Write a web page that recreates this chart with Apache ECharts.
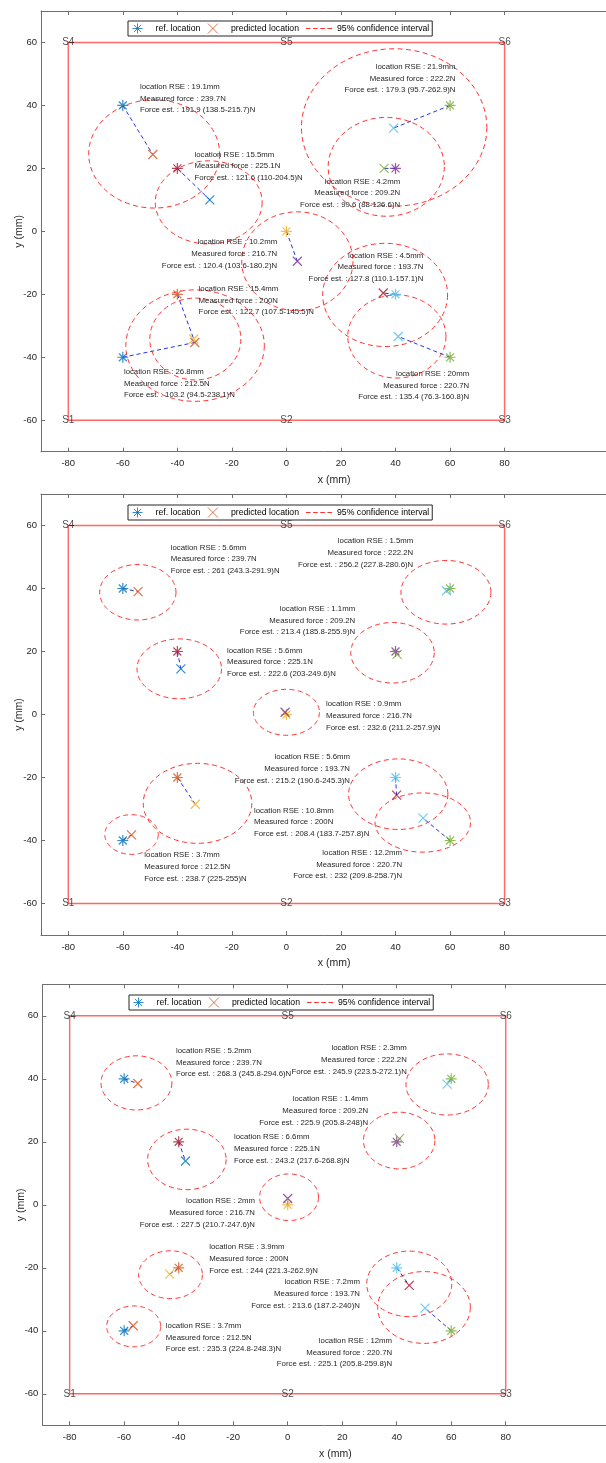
<!DOCTYPE html>
<html><head><meta charset="utf-8">
<script src="https://cdn.jsdelivr.net/npm/echarts@6/dist/echarts.min.js"></script>
<style>html,body{margin:0;padding:0;background:#fff}#c{width:606px;height:1463px}</style>
</head><body><div id="c"></div>
<script>
// ---------------- DATA ----------------
const xTicks = [-80, -60, -40, -20, 0, 20, 40, 60, 80];
const yTicks = [-60, -40, -20, 0, 20, 40, 60];
const sensorNames = ['S1', 'S2', 'S3', 'S4', 'S5', 'S6'];
const sensorX = [-80, 0, 80, -80, 0, 80];
const sensorY = [-60, -60, -60, 60, 60, 60];

// reference locations (mm) and measured force (N)
const refX = [-60, 0, 60, -40, -40, 40, 40, -60, 60];
const refY = [40, 0, 40, 20, -20, 20, -20, -40, -40];
const measuredForce = [239.7, 216.7, 222.2, 225.1, 200, 209.2, 193.7, 212.5, 220.7];

// panel 1
const predX1 = [-49, 4, 39.3, -28.1, -34, 35.8, 35.5, -33.6, 41];
const predY1 = [24.4, -9.5, 32.8, 10, -34.2, 20, -19.6, -35.3, -33.4];
const rse1 = [19.1, 10.2, 21.9, 15.5, 15.4, 4.2, 4.5, 26.8, 20];
const est1 = [191.9, 120.4, 179.3, 121.6, 122.7, 99.6, 127.8, 103.2, 135.4];
const estLo1 = [138.5, 103.6, 95.7, 110, 107.5, 88, 110.1, 94.5, 76.3];
const estHi1 = [215.7, 180.2, 262.9, 204.5, 145.5, 126.6, 157.1, 238.1, 160.8];
const ciCx1 = [-48.5, 4, 39.5, -28.5, -33.4, 36.6, 36.2, -33.5, 40.5];
const ciCy1 = [24.6, -9.5, 33, 9.2, -34.2, 20.5, -20.2, -36.3, -33.4];
const ciRx1 = [24, 20.4, 34, 19.6, 16.7, 21.3, 22.9, 25.4, 18];
const ciRy1 = [17.2, 15.7, 25, 13.2, 13, 15.7, 16.4, 17.7, 13.2];

// panel 2
const predX2 = [-54.4, -0.5, 58.7, -38.7, -33.4, 40.6, 40.4, -56.8, 50.1];
const predY2 = [39, 0.7, 39.3, 14.5, -28.5, 19.1, -25.6, -38.2, -32.9];
const rse2 = [5.6, 0.9, 1.5, 5.6, 10.8, 1.1, 5.6, 3.7, 12.2];
const est2 = [261, 232.6, 256.2, 222.6, 208.4, 213.4, 215.2, 238.7, 232];
const estLo2 = [243.3, 211.2, 227.8, 203, 183.7, 185.8, 190.6, 225, 209.8];
const estHi2 = [291.9, 257.9, 280.6, 249.6, 257.8, 255.9, 245.3, 255, 258.7];
const ciCx2 = [-54.5, 0, 58.5, -39.3, -32.6, 38.9, 41, -56.8, 50];
const ciCy2 = [38.8, 0.7, 38.8, 14.5, -28.2, 19.6, -25.3, -38.1, -34.3];
const ciRx2 = [14, 12.1, 16.5, 15.5, 19.9, 15.3, 18.2, 9.8, 17.5];
const ciRy2 = [8.8, 7.3, 10.1, 9.5, 12.7, 9.6, 11.2, 6.3, 9.4];

// panel 3
const predX3 = [-55, 0, 58.5, -37.5, -43.3, 41, 44.6, -56.7, 50.4];
const predY3 = [38.5, 2, 38.3, 13.9, -22, 21, -25.6, -38.4, -32.8];
const rse3 = [5.2, 2, 2.3, 6.6, 3.9, 1.4, 7.2, 3.7, 12];
const est3 = [268.3, 227.5, 245.9, 243.2, 244, 225.9, 213.6, 235.3, 225.1];
const estLo3 = [245.8, 210.7, 223.5, 217.6, 221.3, 205.8, 187.2, 224.8, 205.8];
const estHi3 = [294.6, 247.6, 272.1, 268.8, 262.9, 248, 240, 248.3, 259.8];
const ciCx3 = [-55.5, 0.5, 58.5, -37, -43, 40.9, 44.6, -56.5, 50];
const ciCy3 = [38.7, 2.4, 38.2, 14.4, -22.2, 20.4, -25.1, -38.6, -32.6];
const ciRx3 = [13, 10.8, 15.1, 14.4, 11.7, 13.1, 15.6, 9.9, 17];
const ciRy3 = [8.6, 7.4, 9.7, 9.6, 7.6, 9, 10.4, 6.5, 11.4];

// ---------------- ANNOTATION ANCHORS (data coords of middle text line) ----------------
const labX1 = [-53.7, -3.4, 62, -33.7, -32.2, 41.7, 50.2, -59.6, 67];
const labY1 = [42.2, -7.2, 48.6, 20.7, -22, 12.1, -11.4, -48.3, -49];
const labA1 = ['left', 'right', 'right', 'left', 'left', 'right', 'right', 'left', 'right'];
const labX2 = [-42.4, 14.5, 46.5, -21.8, -11.9, 25.2, 23.3, -52.1, 42.4];
const labY2 = [49.3, -0.4, 51.3, 16.6, -34.2, 29.8, -17.3, -48.4, -47.6];
const labA2 = ['left', 'left', 'right', 'left', 'left', 'right', 'right', 'left', 'right'];
const labX3 = [-41, -12, 43.7, -19.7, -28.8, 29.5, 26.5, -44.7, 38.3];
const labY3 = [45.2, -2.6, 46, 17.8, -17.2, 29.8, -28.3, -42.1, -46.9];
const labA3 = ['left', 'right', 'right', 'left', 'left', 'right', 'right', 'left', 'right'];

// ---------------- STYLE ----------------
const C = {blue:'#0072BD', orange:'#D95319', yellow:'#EDB120', purple:'#7E2F8E', green:'#77AC30', lblue:'#4DBEEE', dred:'#A2142F'};
const refColors = [C.blue, C.yellow, C.green, C.dred, C.orange, C.purple, C.lblue, C.blue, C.green];
const predColors = [C.orange, C.purple, C.lblue, C.blue, C.yellow, C.green, C.dred, C.orange, C.lblue];
const F = '"Liberation Sans", Arial, Helvetica, sans-serif';
const AX = '#6e6e6e';
const ASTER = 'path://M0,-1L0,1M-1,0L1,0M-0.72,-0.72L0.72,0.72M-0.72,0.72L0.72,-0.72';
const XMARK = 'path://M-1,-1L1,1M-1,1L1,-1';
const DASH = 'path://M0,0h4.5v1.2h-4.5zM7,0h4.5v1.2h-4.5zM14,0h4.5v1.2h-4.5zM21,0h4.5v1.2h-4.5z';

const panels = [
  {predX:predX1, predY:predY1, rse:rse1, est:est1, lo:estLo1, hi:estHi1, cx:ciCx1, cy:ciCy1, rx:ciRx1, ry:ciRy1, lx:labX1, ly:labY1, la:labA1},
  {predX:predX2, predY:predY2, rse:rse2, est:est2, lo:estLo2, hi:estHi2, cx:ciCx2, cy:ciCy2, rx:ciRx2, ry:ciRy2, lx:labX2, ly:labY2, la:labA2},
  {predX:predX3, predY:predY3, rse:rse3, est:est3, lo:estLo3, hi:estHi3, cx:ciCx3, cy:ciCy3, rx:ciRx3, ry:ciRy3, lx:labX3, ly:labY3, la:labA3}
];
const layout = [
  {left:41, top:11, height:440.7, width:586.3, legLeft:128, legTop:21},
  {left:41, top:494, height:441, width:586.3, legLeft:128, legTop:505},
  {left:42.4, top:984.3, height:441, width:586, legLeft:129, legTop:995}
];
const X_MIN = -90, X_MAX = 125, Y_MIN = -70, Y_MAX = 70;

const chart = echarts.init(document.getElementById('c'), null, {renderer:'canvas'});

const grid = [], xAxis = [], yAxis = [], series = [], legend = [];
const sxMin = Math.min(...sensorX), sxMax = Math.max(...sensorX);
const syMin = Math.min(...sensorY), syMax = Math.max(...sensorY);

panels.forEach((P, p) => {
  const L = layout[p];
  grid.push({left:L.left, top:L.top, height:L.height, width:L.width, containLabel:false, outerBoundsMode:'none'});
  const baseX = {
    gridIndex:p, type:'value', min:X_MIN, max:X_MAX,
    axisLine:{onZero:false, lineStyle:{color:AX, width:1}},
    axisTick:{inside:true, length:4, customValues:xTicks, lineStyle:{color:AX, width:1}},
    splitLine:{show:false}
  };
  xAxis.push(Object.assign({}, baseX, {
    position:'bottom',
    axisLabel:{customValues:xTicks, color:'#262626', fontSize:9.5, fontFamily:F, margin:7},
    name:'x (mm)', nameLocation:'middle', nameGap:23, nameMoveOverlap:false,
    nameTextStyle:{color:'#262626', fontSize:10.5, fontFamily:F}
  }));
  xAxis.push(Object.assign({}, baseX, {position:'top', axisLabel:{show:false}}));
  yAxis.push({
    gridIndex:p, type:'value', min:Y_MIN, max:Y_MAX, position:'left',
    axisLine:{onZero:false, lineStyle:{color:AX, width:1}},
    axisTick:{inside:true, length:4, customValues:yTicks, lineStyle:{color:AX, width:1}},
    axisLabel:{customValues:yTicks, color:'#262626', fontSize:9.5, fontFamily:F, margin:4},
    splitLine:{show:false},
    name:'y (mm)', nameLocation:'middle', nameGap:16, nameMoveOverlap:false,
    nameTextStyle:{color:'#262626', fontSize:10.5, fontFamily:F}
  });
  const xi = p * 2, yi = p;

  // sensor frame
  series.push({
    type:'line', name:'frame', xAxisIndex:xi, yAxisIndex:yi, silent:true, symbol:'none', z:1,
    lineStyle:{color:'#ff6666', width:1.4},
    data:[[sxMin, syMin], [sxMax, syMin], [sxMax, syMax], [sxMin, syMax], [sxMin, syMin]]
  });
  // sensor labels
  series.push({
    type:'scatter', name:'sensors', xAxisIndex:xi, yAxisIndex:yi, silent:true, symbolSize:1, z:3,
    itemStyle:{color:'rgba(0,0,0,0)'},
    label:{show:true, position:'inside', formatter:'{b}', color:'#1a1a1a', fontSize:10, fontFamily:F},
    data: sensorNames.map((n, i) => ({name:n, value:[sensorX[i], sensorY[i]]}))
  });
  // confidence ellipses
  series.push({
    type:'custom', name:'95% confidence interval', xAxisIndex:xi, yAxisIndex:yi, silent:true, z:2,
    itemStyle:{color:'#ff3030'},
    data: P.cx.map((c, i) => [c, P.cy[i], P.rx[i], P.ry[i]]),
    renderItem: (params, api) => {
      const c = api.coord([api.value(0), api.value(1)]);
      const s = api.size([api.value(2), api.value(3)]);
      const pts = [];
      for (let k = 0; k <= 120; k++) {
        const t = k / 120 * Math.PI * 2;
        pts.push([c[0] + s[0] * Math.cos(t), c[1] + s[1] * Math.sin(t)]);
      }
      return {type:'polyline', shape:{points:pts}, style:{stroke:'#ff3030', fill:null, lineWidth:1, lineDash:[5, 3.5]}};
    }
  });
  // connecting dashed lines
  series.push({
    type:'custom', name:'link', xAxisIndex:xi, yAxisIndex:yi, silent:true, z:3,
    data: refX.map((x, i) => [x, refY[i], P.predX[i], P.predY[i]]),
    renderItem: (params, api) => {
      const a = api.coord([api.value(0), api.value(1)]);
      const b = api.coord([api.value(2), api.value(3)]);
      return {type:'line', shape:{x1:a[0], y1:a[1], x2:b[0], y2:b[1]}, style:{stroke:'#2233ee', lineWidth:1, lineDash:[4, 3]}};
    }
  });
  // reference locations
  series.push({
    type:'scatter', name:'ref. location', xAxisIndex:xi, yAxisIndex:yi, silent:true, z:5,
    symbol:ASTER, symbolSize:11,
    itemStyle:{color:'rgba(0,0,0,0)', borderColor:C.blue, borderWidth:1.2},
    data: refX.map((x, i) => ({value:[x, refY[i]], itemStyle:{borderColor:refColors[i]}}))
  });
  // predicted locations
  series.push({
    type:'scatter', name:'predicted location', xAxisIndex:xi, yAxisIndex:yi, silent:true, z:5,
    symbol:XMARK, symbolSize:9,
    itemStyle:{color:'rgba(0,0,0,0)', borderColor:C.orange, borderWidth:1.2},
    data: P.predX.map((x, i) => ({value:[x, P.predY[i]], itemStyle:{borderColor:predColors[i]}}))
  });
  // annotation text
  series.push({
    type:'custom', name:'notes', xAxisIndex:xi, yAxisIndex:yi, silent:true, z:4,
    data: P.lx.map((x, i) => [x, P.ly[i]]),
    renderItem: (params, api) => {
      const i = params.dataIndex;
      const c = api.coord([api.value(0), api.value(1)]);
      const txt = 'location RSE : ' + P.rse[i] + 'mm\nMeasured force : ' + measuredForce[i] +
                  'N\nForce est. : ' + P.est[i] + ' (' + P.lo[i] + '-' + P.hi[i] + ')N';
      return {type:'text', x:c[0], y:c[1], style:{text:txt, align:P.la[i], verticalAlign:'middle',
        fontSize:7.8, fontFamily:F, lineHeight:11.7, fill:'#262626'}};
    }
  });

  legend.push({
    left:L.legLeft, top:L.legTop, orient:'horizontal',
    itemWidth:26, itemHeight:10, itemGap:7, padding:[2, 3, 2, 4],
    backgroundColor:'#fff', borderColor:'#262626', borderWidth:1, borderRadius:0,
    selectedMode:false,
    textStyle:{fontSize:8.7, color:'#000', fontFamily:F},
    data:[
      {name:'ref. location', icon:ASTER, itemStyle:{color:'rgba(0,0,0,0)', borderColor:C.blue, borderWidth:1}},
      {name:'predicted location', icon:XMARK, itemStyle:{color:'rgba(0,0,0,0)', borderColor:C.orange, borderWidth:1}},
      {name:'95% confidence interval', icon:DASH, itemStyle:{color:'#ff3030', borderWidth:0}}
    ]
  });
});

chart.setOption({
  animation:false,
  backgroundColor:'#fff',
  textStyle:{fontFamily:F},
  grid, xAxis, yAxis, legend, series
});
</script>
</body></html>
